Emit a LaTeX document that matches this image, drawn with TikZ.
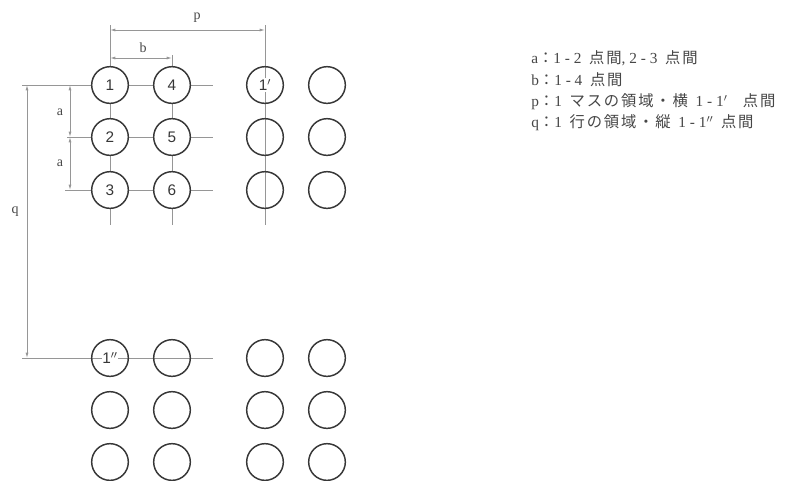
\documentclass[tikz,border=0pt]{standalone}
\usepackage{fontspec}
\setmainfont{Liberation Serif}
\setsansfont{Liberation Sans}
\newfontfamily\jafont[LetterSpace=12]{Noto Sans CJK JP}
\newfontfamily\keyfont[LetterSpace=25]{Liberation Serif}
\usetikzlibrary{arrows.meta}

\definecolor{ringgray}{RGB}{55,55,55}
\definecolor{guidegray}{RGB}{150,150,150}
\definecolor{inkgray}{RGB}{70,70,70}

\newcommand{\ja}[1]{{\jafont #1}}

\tikzset{
  hole/.style={circle, draw=ringgray, line width=1.1pt, minimum size=27.5pt, inner sep=0pt,
    text=ringgray, font=\sffamily\fontsize{11.5}{12}\selectfont},
  numhole/.style={hole, fill=white},
  holetext/.style={fill=white, inner sep=0.5pt, text=ringgray, font=\sffamily\fontsize{11.5}{12}\selectfont},
  guide/.style={draw=guidegray, line width=0.6pt},
  dimline/.style={guide, {Latex[length=4pt,width=2.2pt]}-{Latex[length=4pt,width=2.2pt]}},
  dimlabel/.style={text=inkgray, font=\fontsize{10.5}{11}\selectfont},
  legend/.style={anchor=west, text=inkgray, inner sep=0pt, font=\keyfont\fontsize{11.5}{12}\selectfont}
}

\begin{document}
\begin{tikzpicture}[x=0.75pt,y=0.75pt,yscale=-1]
\useasboundingbox (0,0) rectangle (795,480);

% extension ends
\coordinate (ptop) at (110,25);
\coordinate (pend) at (265,25);
\coordinate (btop) at (172,55);
\coordinate (qtop) at (22,85);
\coordinate (qbot) at (22,358);
\coordinate (atwo) at (67,137);
\coordinate (athree) at (65,190);
\coordinate (rowend1) at (213,85);
\coordinate (rowend2) at (213,137);
\coordinate (rowend3) at (213,190);
\coordinate (rowend4) at (213,358);
\coordinate (colend1) at (110,225);
\coordinate (colend2) at (172,225);
\coordinate (colend3) at (265,225);

%Grid Lines
\draw [guide] (qtop) -- (rowend1);
\draw [guide] (atwo) -- (rowend2);
\draw [guide] (athree) -- (rowend3);
\draw [guide] (qbot) -- (rowend4);
\draw [guide] (ptop) -- (colend1);
\draw [guide] (btop) -- (colend2);
\draw [guide] (pend) -- (colend3);

%Numbered Holes
\node [numhole] (n1) at (110,85) {1};
\node [numhole] (n2) at (110,137) {2};
\node [numhole] (n3) at (110,190) {3};
\node [numhole] (n4) at (172,85) {4};
\node [numhole] (n5) at (172,137) {5};
\node [numhole] (n6) at (172,190) {6};

%Next Cell
\node [hole] (n1p) at (265,85) {};
\node [holetext] (t1p) at (n1p) {1$'$};
\node [hole] (h23) at (265,137) {};
\node [hole] (h33) at (265,190) {};
\foreach \y [count=\i] in {85,137,190} \node [hole] (h\i4) at (327,\y) {};

%Next Row
\node [hole] (n1pp) at (110,358) {};
\node [holetext] (t1pp) at (n1pp) {1$''$};
\node [hole] (g12) at (172,358) {};
\node [hole] (g13) at (265,358) {};
\node [hole] (g14) at (327,358) {};
\foreach \y [count=\i from 2] in {410,462}
  \foreach \x [count=\j] in {110,172,265,327}
    \node [hole] (g\i\j) at (\x,\y) {};

%Dimensions
\coordinate (p1) at (110,30);
\coordinate (p2) at (265,30);
\draw [dimline] (p1) -- (p2);
\coordinate (b1) at (110,58);
\coordinate (b2) at (172,58);
\draw [dimline] (b1) -- (b2);
\coordinate (a1) at (70,85);
\coordinate (a2) at (70,137);
\coordinate (a3) at (70,190);
\draw [dimline] (a1) -- (a2);
\draw [dimline] (a2) -- (a3);
\coordinate (q1) at (27,85);
\coordinate (q2) at (27,358);
\draw [dimline] (q1) -- (q2);

% Text Node
\node [dimlabel] (lp) at (197,18) {p};
% Text Node
\node [dimlabel] (lb) at (143,48) {b};
% Text Node
\node [dimlabel] (la1) at (60,112) {a};
% Text Node
\node [dimlabel] (la2) at (60,163) {a};
% Text Node
\node [dimlabel] (lq) at (15,212) {q};

% Legend
\node [legend] (key1) at (531,58) {a\ja{：}1-2\ \ja{点間},2-3\ \ja{点間}};
\node [legend] (key2) at (531,80) {b\ja{：}1-4\ \ja{点間}};
\node [legend] (key3) at (531,102) {p\ja{：}1\ \ja{マスの領域・横}\ 1-1$'$\ \ \ja{点間}};
\node [legend] (key4) at (531,123) {q\ja{：}1\ \ja{行の領域・縦}\ 1-1$''$\ \ja{点間}};

\end{tikzpicture}
\end{document}
